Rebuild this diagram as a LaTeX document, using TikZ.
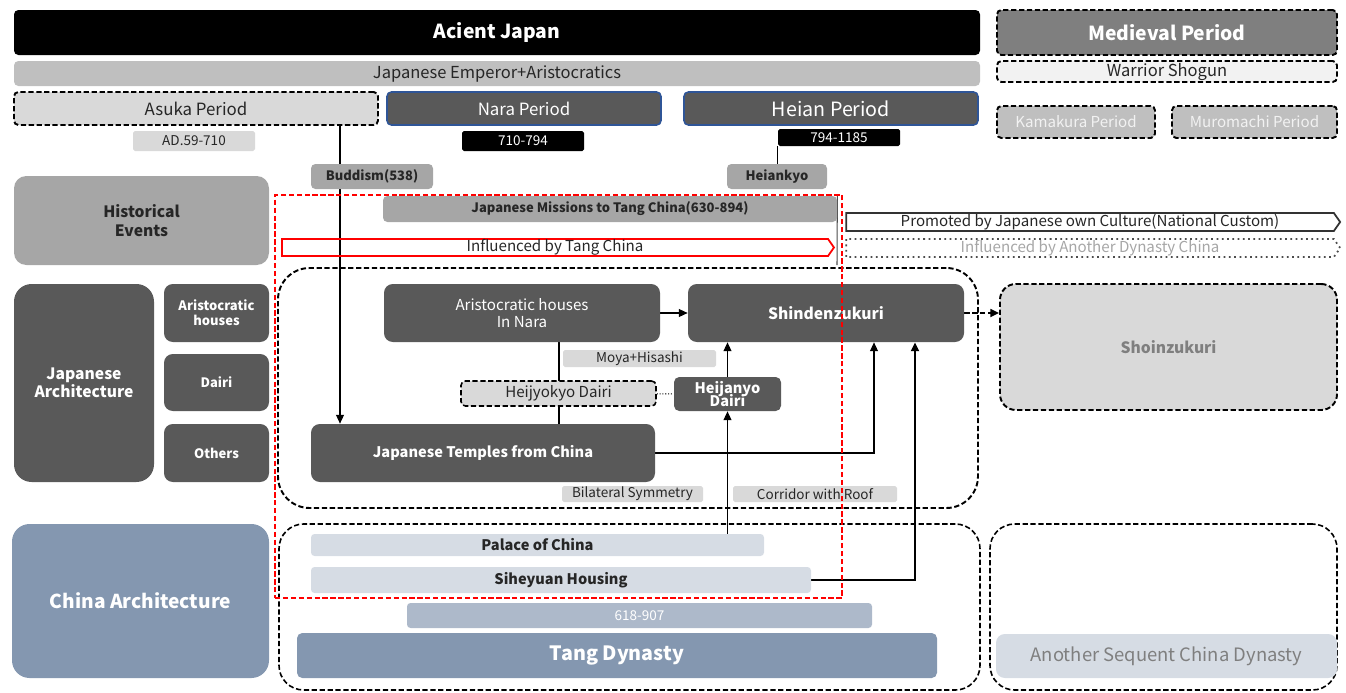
\documentclass[tikz,border=0pt]{standalone}
\usepackage{fontspec}
\setmainfont{Noto Sans CJK KR}
\usetikzlibrary{arrows.meta,positioning,shapes.symbols,backgrounds}
\definecolor{jDark}{HTML}{595959}
\definecolor{jMid}{HTML}{A6A6A6}
\definecolor{jBar}{HTML}{BFBFBF}
\definecolor{jLight}{HTML}{D9D9D9}
\definecolor{jPale}{HTML}{F2F2F2}
\definecolor{jMed}{HTML}{7F7F7F}
\definecolor{jBlue}{HTML}{2F5597}
\definecolor{cSlate}{HTML}{8497B0}
\definecolor{cSoft}{HTML}{ADB9CA}
\definecolor{cPale}{HTML}{D6DCE4}
\definecolor{tangRed}{HTML}{FF0000}

\begin{document}
\begin{tikzpicture}[x=0.02cm, y=-0.02cm,
    sz/.style 2 args={minimum width=#1*0.02cm, minimum height=#2*0.02cm},
    cell/.style={rounded corners=2.5pt, inner sep=0pt, align=center},
    dashbox/.style={cell, draw=black, line width=1.1pt, dash pattern=on 3pt off 1.5pt},
    frame/.style={dashbox, rounded corners=12pt},
    darkcell/.style={cell, fill=jDark, text=white},
    fsA/.style={font=\fontsize{11}{13}\selectfont\bfseries},
    fsB/.style={font=\fontsize{9.6}{11.5}\selectfont},
    fsC/.style={font=\fontsize{9.4}{11}\selectfont},
    fsCb/.style={font=\fontsize{8.9}{10.5}\selectfont\bfseries},
    fsD/.style={font=\fontsize{8.6}{10}\selectfont},
    fsDb/.style={font=\fontsize{8.3}{9.5}\selectfont\bfseries},
    fsE/.style={font=\fontsize{7.7}{9}\selectfont},
    fsEb/.style={font=\fontsize{7.4}{8.6}\selectfont\bfseries},
    band/.style={signal, signal to=east, signal pointer angle=110, inner sep=0pt,
      line width=1pt},
    edge/.style={line width=0.6pt, -{Triangle[length=5pt,width=4.5pt]}},
    link/.style={line width=0.6pt}]
  \useasboundingbox (0,0) rectangle (1346,693);

  % eras
  \node[cell, fill=black, text=white, fsA, sz={966}{45}] (acient) at (497,32.5) {Acient Japan};
  \node[dashbox, fill=jMed, text=white, fsA, sz={340}{45}] (medieval) at (1167,32.5) {Medieval Period};
  \node[cell, fill=jBar, text=black!85, fsC, sz={966}{25}] (emperor) at (497,73.5) {Japanese Emperor+Aristocratics};
  \node[dashbox, fill=jPale, text=black!85, fsC, sz={340}{21}] (shogun) at (1167,71.5) {Warrior Shogun};
  \node[dashbox, fill=jLight, text=black!85, fsB, sz={364}{33}] (asuka) at (196,108.5) {Asuka Period};
  \node[darkcell, draw=jBlue, line width=0.9pt, fsB, sz={274}{33}] (nara) at (524,108.5) {Nara Period};
  \node[darkcell, draw=jBlue, line width=0.9pt, font=\fontsize{11.2}{13}\selectfont, sz={294}{33}] (heian) at (831,108.5) {Heian Period};
  \node[dashbox, fill=jBar, text=jPale, fsD, sz={158}{32}] (kamakura) at (1076,122) {Kamakura Period};
  \node[dashbox, fill=jBar, text=jPale, fsD, sz={165}{32}] (muromachi) at (1254.5,122) {Muromachi Period};
  \node[cell, rounded corners=1pt, fill=jLight, text=black!85, fsE, sz={122}{20}] (yrasuka) at (194,141) {AD.59-710};
  \node[cell, rounded corners=1pt, fill=black, text=white, fsE, sz={122}{20}] (yrnara) at (523,141) {710-794};
  \node[cell, rounded corners=1pt, fill=black, text=white, fsE, sz={122}{17}] (yrheian) at (839,137.5) {794-1185};
  \node[cell, fill=jMid, text=black!85, fsEb, sz={122}{25}] (buddism) at (372,176.5) {Buddism(538)};
  \node[cell, fill=jMid, text=black!85, fsEb, sz={100}{25}] (heiankyo) at (777,176.5) {Heiankyo};

  % historical events
  \node[cell, rounded corners=7pt, fill=jMid, text=black!85, fsCb, sz={255}{89}] (histev) at (141.5,220.5) {Historical\\Events};
  \node[cell, fill=jMid, text=black!85, fsEb, sz={454}{26}] (missions) at (610,209) {Japanese Missions to Tang China(630-894)};
  \node[band, draw=tangRed, text=black!85, fsD, sz={552}{17}] (tanginf) at (555,247.5) {Influenced by Tang China};
  \node[band, draw=black!80, text=black!85, fsD, sz={494}{18}] (promoted) at (1090,222) {Promoted by Japanese own Culture(National Custom)};
  \node[band, draw=black!70, dotted, text=jMid, fsD, sz={494}{18}] (anotherinf) at (1090,248) {Influenced by Another Dynasty China};
  \coordinate (mend) at (837,265);

  % japanese architecture
  \node[darkcell, rounded corners=10pt, fsCb, sz={140}{198}] (japarch) at (84,383) {Japanese\\Architecture};
  \node[darkcell, rounded corners=5pt, fsEb, sz={105}{58}] (aristo) at (216.5,313) {Aristocratic\\houses};
  \node[darkcell, rounded corners=5pt, fsEb, sz={105}{57}] (dairi) at (216.5,382.5) {Dairi};
  \node[darkcell, rounded corners=5pt, fsEb, sz={105}{58}] (others) at (216.5,453) {Others};
  \node[frame, rounded corners=18pt, sz={700}{240}] (japframe) at (628,388) {};
  \node[darkcell, rounded corners=5pt, fsD, sz={276}{58}] (narahouse) at (522,313) {Aristocratic houses\\In Nara};
  \node[darkcell, rounded corners=5pt, fsCb, sz={276}{58}] (shinden) at (826,313) {Shindenzukuri};
  \node[cell, rounded corners=1pt, fill=jLight, text=black!85, fsE, sz={153}{17}] (moya) at (639.5,358.5) {Moya+Hisashi};
  \node[dashbox, line width=0.9pt, fill=jLight, text=black!85, fsD, sz={195}{25}] (heijyokyo) at (558.5,393.5) {Heijyokyo Dairi};
  \node[darkcell, rounded corners=3pt, fsDb, sz={107}{34}] (heijanyo) at (727.5,394) {Heijanyo\\[-2pt]Dairi};
  \node[darkcell, rounded corners=5pt, fsDb, sz={344}{58}] (temples) at (483,453) {Japanese Temples from China};
  \node[cell, rounded corners=1pt, fill=jLight, text=black!85, fsE, sz={141}{16}] (bilateral) at (632.5,494) {Bilateral Symmetry};
  \node[cell, rounded corners=1pt, fill=jLight, text=black!85, fsE, sz={164}{16}] (corridor) at (815,494) {Corridor with Roof};
  \node[dashbox, rounded corners=9pt, fill=jLight, text=jMed, fsCb, sz={337}{126}] (shoin) at (1168.5,347) {Shoinzukuri};

  % china architecture
  \node[cell, rounded corners=10pt, fill=cSlate, text=white, font=\fontsize{10.9}{12.5}\selectfont\bfseries, sz={257}{154}] (chinaarch) at (140.5,601) {China Architecture};
  \node[frame, line width=0.9pt, rounded corners=14pt, sz={701}{166}] (chinaframe) at (629.5,607) {};
  \node[frame, line width=0.9pt, rounded corners=14pt, sz={347}{166}] (laterframe) at (1163.5,607) {};
  \node[cell, rounded corners=2pt, fill=cPale, text=black!85, fsDb, sz={453}{22}] (palace) at (537.5,545) {Palace of China};
  \node[cell, rounded corners=2pt, fill=cPale, text=black!85, fsDb, sz={500}{26}] (siheyuan) at (561,580) {Siheyuan Housing};
  \node[cell, rounded corners=2pt, fill=cSoft, text=white, fsE, sz={465}{25}] (tangyears) at (639.5,615.5) {618-907};
  \node[cell, rounded corners=3pt, fill=cSlate, text=white, font=\fontsize{11.2}{13}\selectfont\bfseries, sz={640}{45}] (tang) at (617,655.5) {Tang Dynasty};
  \node[cell, rounded corners=5pt, fill=cPale, text=jMed, font=\fontsize{10.5}{12}\selectfont, sz={341}{44}] (laterdyn) at (1166.5,656) {Another Sequent China Dynasty};

  % influence zone
  \node[draw=tangRed, line width=1pt, dash pattern=on 3pt off 1.5pt, inner sep=0pt, sz={567}{403}] (tangzone) at (558.5,396.5) {};

  % connectors
  \coordinate (xbud) at (340,0);
  \coordinate (xmoya) at (559,0);
  \coordinate (xtemp) at (874,0);
  \coordinate (xsih) at (915,0);
  \begin{scope}[on background layer]
    \draw[edge] (asuka.south -| xbud) -- (temples.north -| xbud);
    \draw[link] (yrheian.south west) -- (heiankyo.north -| yrheian.south west);
    \draw[link, black!70] (missions.north east) -- (mend);
    \draw[edge] (narahouse) -- (shinden);
    \draw[link] (narahouse.south -| xmoya) -- (temples.north -| xmoya);
    \draw[link, densely dotted] (heijyokyo) -- (heijanyo);
    \draw[edge] (heijanyo.north) -- (heijanyo.north |- shinden.south);
    \draw[edge] (temples.east) -| (xtemp |- shinden.south);
    \draw[edge] (palace.north -| heijanyo.south) -- (heijanyo.south);
    \draw[edge, line width=1.2pt] (siheyuan.east) -| (xsih |- shinden.south);
    \draw[edge, line width=1.1pt, dash pattern=on 3pt off 1.5pt] (shinden.east) -- (shinden.east -| shoin.west);
  \end{scope}
\end{tikzpicture}
\end{document}
